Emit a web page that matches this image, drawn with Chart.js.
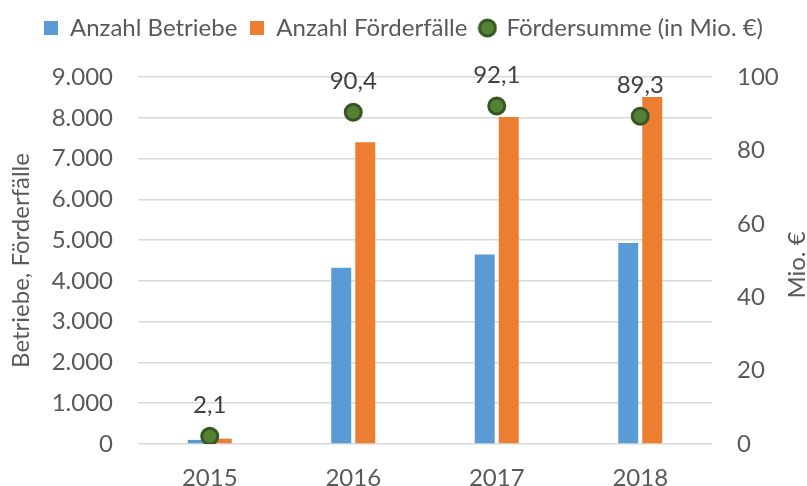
<!DOCTYPE html>
<html>
<head>
<meta charset="utf-8">
<script src="https://cdn.jsdelivr.net/npm/chart.js@4/dist/chart.umd.min.js"></script>
<style>
  html, body { margin: 0; padding: 0; background: #fff; }
  #grafica { display: block; }
</style>
</head>
<body>
<canvas id="grafica" width="807" height="486"></canvas>
<script>
var jahre = ['2015', '2016', '2017', '2018'];
var betriebe = [100, 4320, 4650, 4930];
var foerderfaelle = [130, 7400, 8020, 8510];
var foerdersumme = [2.1, 90.4, 92.1, 89.3];

var blau = '#5B9BD5';
var orange = '#ED7D31';
var gruen = '#548235';
var gruenRand = '#375623';
var grau = '#595959';
var schrift = 'Lato';
var groesse = 24;

function tausender(v)
{
  return v.toString().replace(/\B(?=(\d{3})+(?!\d))/g, '.');
}

function komma(v)
{
  return v.toFixed(1).replace('.', ',');
}

// kleine Legendensymbole
function symbol(art, farbe, rand)
{
  var c = document.createElement('canvas');
  var ctx = c.getContext('2d');
  if (art == 'rect') {
    c.width = 14; c.height = 14;
    ctx.fillStyle = farbe;
    ctx.fillRect(0, 0, 14, 14);
  } else {
    c.width = 20; c.height = 20;
    ctx.beginPath();
    ctx.arc(10, 10, 8, 0, Math.PI * 2);
    ctx.fillStyle = farbe;
    ctx.fill();
    ctx.lineWidth = 3;
    ctx.strokeStyle = rand;
    ctx.stroke();
  }
  return c;
}

var legendeAbstand = {
  id: 'legendeAbstand',
  beforeInit(chart) {
    var fitAlt = chart.legend.fit;
    chart.legend.fit = function () {
      fitAlt.bind(chart.legend)();
      this.height = 74;
    };
  }
};

var beschriftung = {
  id: 'beschriftung',
  afterDatasetsDraw(chart) {
    var ctx = chart.ctx;
    var meta = chart.getDatasetMeta(2);
    ctx.save();
    ctx.font = groesse + 'px ' + schrift;
    ctx.fillStyle = '#404040';
    ctx.textAlign = 'center';
    ctx.textBaseline = 'middle';
    meta.data.forEach(function (p, i) {
      ctx.fillText(komma(foerdersumme[i]), p.x, p.y - 31);
    });
    // Titel der rechten Achse
    ctx.fillStyle = grau;
    ctx.translate(797, 265);
    ctx.rotate(-Math.PI / 2);
    ctx.fillText('Mio. €', 0, 0);
    ctx.restore();
  }
};

Chart.defaults.font.family = schrift;
Chart.defaults.font.size = groesse;
Chart.defaults.color = grau;

var chart = new Chart(document.getElementById('grafica'), {
  type: 'bar',
  data: {
    labels: jahre,
    datasets: [
      {
        label: 'Anzahl Betriebe',
        data: betriebe,
        backgroundColor: blau,
        yAxisID: 'y',
        categoryPercentage: 0.335,
        barPercentage: 0.83
      },
      {
        label: 'Anzahl Förderfälle',
        data: foerderfaelle,
        backgroundColor: orange,
        yAxisID: 'y',
        categoryPercentage: 0.335,
        barPercentage: 0.83
      },
      {
        type: 'line',
        label: 'Fördersumme (in Mio. €)',
        data: foerdersumme,
        yAxisID: 'y1',
        showLine: false,
        order: -1,
        pointRadius: 8,
        pointHoverRadius: 8,
        pointBorderWidth: 3,
        backgroundColor: gruen,
        borderColor: gruenRand
      }
    ]
  },
  options: {
    responsive: false,
    animation: false,
    layout: { padding: { top: 3, left: 0, right: 0, bottom: 0 } },
    plugins: {
      tooltip: { enabled: false },
      legend: {
        position: 'top',
        labels: {
          usePointStyle: true,
          boxWidth: 14,
          boxHeight: 14,
          padding: 13,
          color: grau,
          font: { size: groesse },
          generateLabels: function (chart) {
            var ds = chart.data.datasets;
            return [
              { text: ds[0].label, pointStyle: symbol('rect', blau), fillStyle: blau, strokeStyle: blau, lineWidth: 0, datasetIndex: 0, fontColor: grau },
              { text: ds[1].label, pointStyle: symbol('rect', orange), fillStyle: orange, strokeStyle: orange, lineWidth: 0, datasetIndex: 1, fontColor: grau },
              { text: ds[2].label, pointStyle: symbol('circle', gruen, gruenRand), fillStyle: gruen, strokeStyle: gruenRand, lineWidth: 0, datasetIndex: 2, fontColor: grau }
            ];
          }
        }
      }
    },
    scales: {
      x: {
        grid: { display: false },
        border: { display: false },
        ticks: { padding: 12, color: grau },
        afterFit: function (s) { s.height = 42; }
      },
      y: {
        position: 'left',
        min: 0,
        max: 9000,
        grid: { color: '#d9d9d9', drawTicks: false, lineWidth: 1.5 },
        border: { display: false },
        ticks: {
          stepSize: 1000,
          padding: 25,
          color: grau,
          callback: function (v) { return tausender(v); }
        },
        title: {
          display: true,
          text: 'Betriebe, Förderfälle',
          color: grau,
          font: { size: groesse },
          padding: { top: 7, bottom: 0 }
        },
        afterFit: function (s) { s.width = 138; }
      },
      y1: {
        position: 'right',
        min: 0,
        max: 100,
        grid: { display: false, drawTicks: false },
        border: { display: false },
        ticks: { stepSize: 20, padding: 25, color: grau },
        afterFit: function (s) { s.width = 95; }
      }
    }
  },
  plugins: [legendeAbstand, beschriftung]
});
</script>
</body>
</html>
